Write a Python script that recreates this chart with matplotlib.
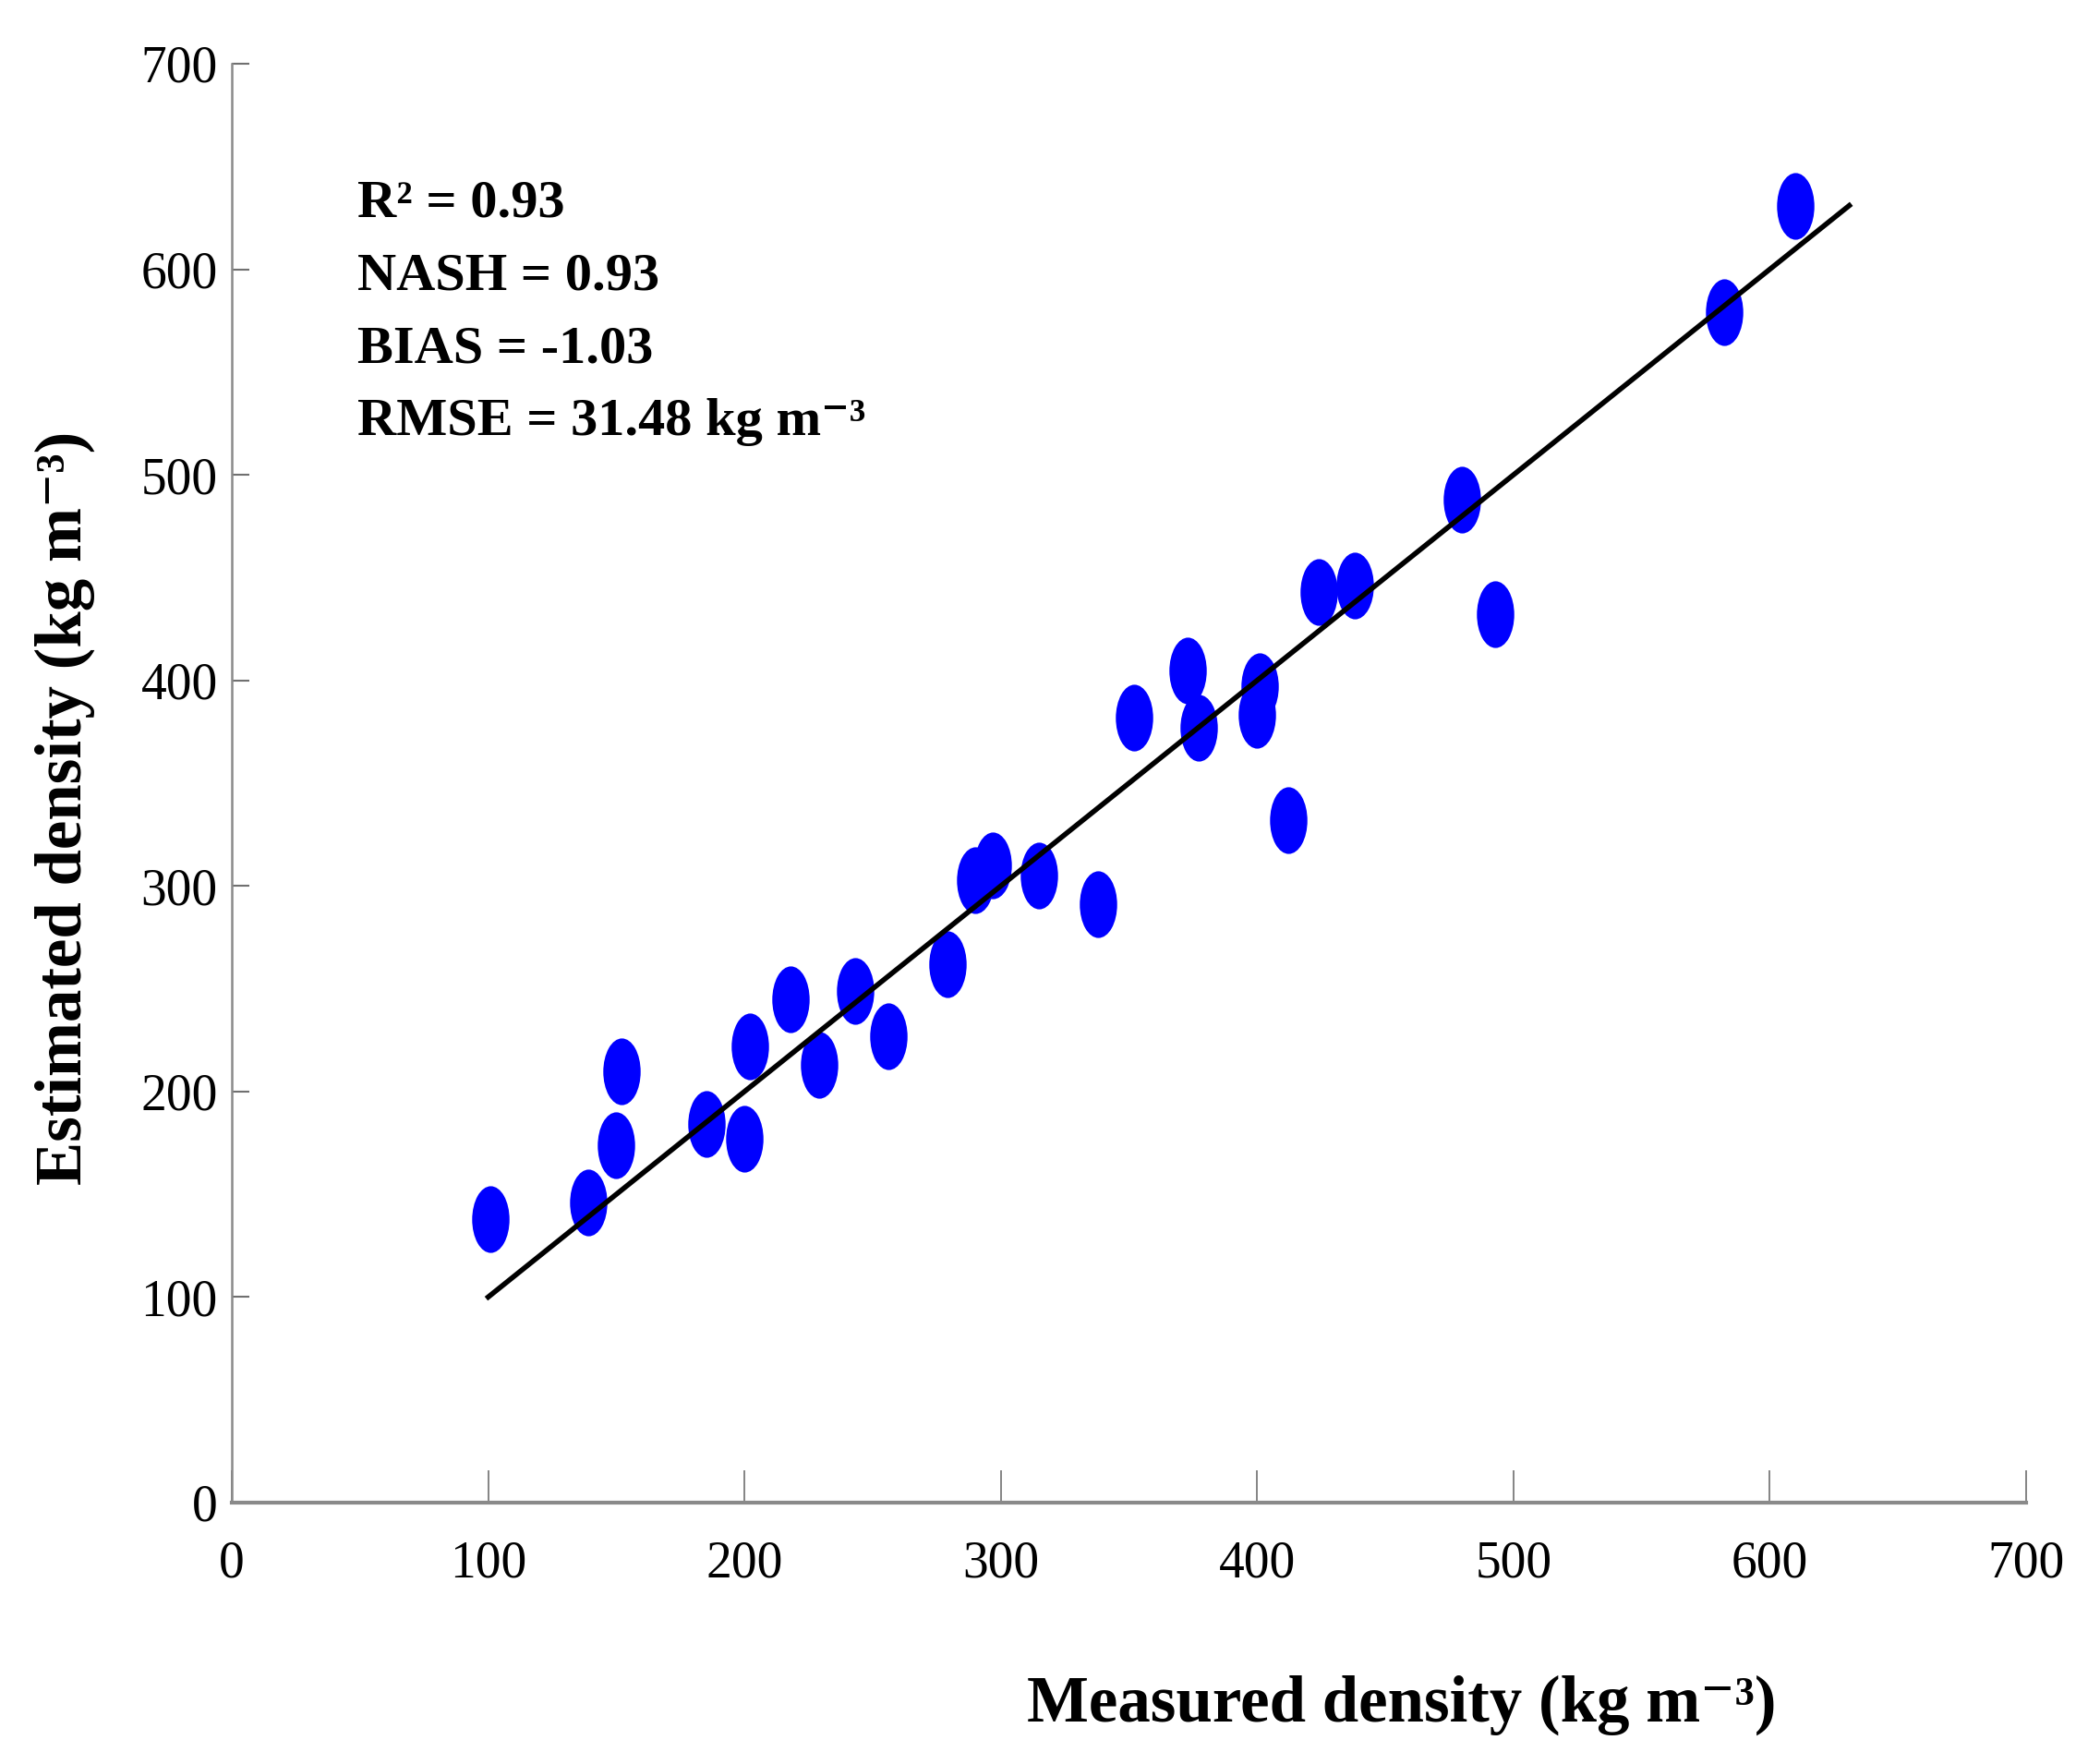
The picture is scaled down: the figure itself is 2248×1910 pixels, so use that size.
import matplotlib
matplotlib.use("Agg")
import matplotlib.pyplot as plt
from matplotlib.path import Path
from matplotlib.transforms import Affine2D

plt.rcParams['font.family'] = ['Liberation Serif', 'DejaVu Serif']

# measured vs estimated snow density (kg m-3)
measured = [101, 139, 150, 152, 185, 200, 202, 218, 229, 243, 256, 279, 290, 297,
            315, 338, 352, 373, 377, 400, 401, 412, 424, 438, 480, 493, 582, 610]
estimated = [138, 146, 174, 210, 184, 177, 222, 245, 213, 249, 227, 262, 303, 310,
             305, 291, 382, 405, 377, 383, 397, 332, 443, 446, 488, 432, 579, 631]

fit_x = [100, 631]
fit_y = [100, 631]

ticks = [0, 100, 200, 300, 400, 500, 600, 700]

stats = ["R\u00b2 = 0.93",
         "NASH = 0.93",
         "BIAS = -1.03",
         "RMSE = 31.48 kg m\u207b\u00b3"]

# tall ellipse marker
ellipse = Path.unit_circle().transformed(Affine2D().scale(0.56, 1.0))

fig = plt.figure(figsize=(22.48, 19.10), dpi=100)
ax = fig.add_axes([0.1117, 0.1482, 0.8643, 0.8157])

ax.plot(measured, estimated, linestyle='none', marker=ellipse, markersize=52,
        markerfacecolor='#0000ff', markeredgewidth=0, zorder=2)
ax.plot(fit_x, fit_y, color='black', linewidth=4.0, zorder=3)

ax.set_xlim(0, 700)
ax.set_ylim(0, 700)
ax.set_xticks(ticks)
ax.set_yticks(ticks)

for side in ['top', 'right']:
    ax.spines[side].set_visible(False)
ax.spines['left'].set_color('#8a8a8a')
ax.spines['left'].set_linewidth(1.8)
ax.spines['bottom'].set_color('#8a8a8a')
ax.spines['bottom'].set_linewidth(3.0)

ax.tick_params(axis='x', direction='in', length=25, width=1.2, color='#707070',
               pad=29, labelsize=40)
ax.tick_params(axis='y', direction='in', length=14, width=1.5, color='#707070',
               pad=11, labelsize=40)

ax.set_xlabel("Measured density (kg m\u207b\u00b3)", fontsize=51, fontweight='bold')
ax.xaxis.set_label_coords(0.652, -0.141)
ax.xaxis.label.set_va('center')

ax.set_ylabel("Estimated density (kg m\u207b\u00b3)", fontsize=51, fontweight='bold')
ax.yaxis.set_label_coords(-0.0932, 0.483)
ax.yaxis.label.set_va('center')

for i, s in enumerate(stats):
    ax.text(49, 632 - i * 35.5, s, fontsize=42, fontweight='bold',
            ha='left', va='center')

fig.savefig("out.png", dpi=100, facecolor='white')
